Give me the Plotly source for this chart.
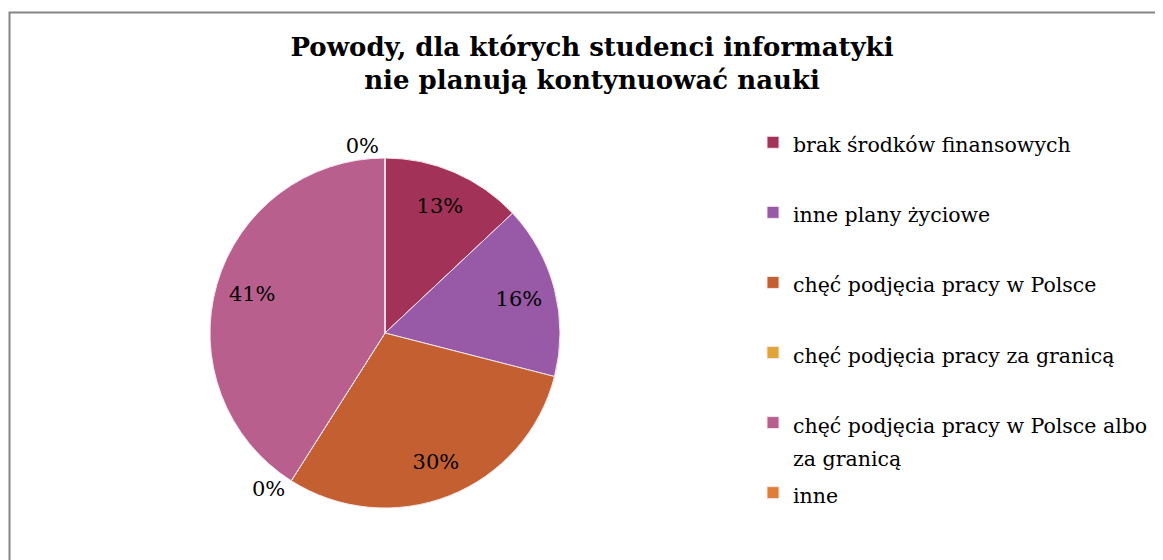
import plotly.graph_objects as go

# ---- data ----
categories = [
    "brak środków finansowych",
    "inne plany życiowe",
    "chęć podjęcia pracy w Polsce",
    "chęć podjęcia pracy za granicą",
    "chęć podjęcia pracy w Polsce albo za granicą",
    "inne",
]
shares = [13, 16, 30, 0, 41, 0]
colors = ["#A23257", "#9859A6", "#C45F31", "#E0A535", "#B85F8E", "#E07D36"]
title_text = "Powody, dla których studenci informatyki<br>nie planują kontynuować nauki"

FONT = "DejaVu Serif"
OFF = 8  # page body margin offset (px)
W, H = 1163 - OFF, 560 - OFF


def px_x(v):
    return (v - OFF) / W


def px_y(v):
    return 1 - (v - OFF) / H


def wrap(label, width=34):
    words, lines, cur = label.split(), [], ""
    for w in words:
        if cur and len(cur) + 1 + len(w) > width:
            lines.append(cur)
            cur = w
        else:
            cur = (cur + " " + w).strip()
    lines.append(cur)
    return lines


legend_labels = []
for c in categories:
    lines = wrap(c)
    if len(lines) == 1:
        lines.append(" ")
    legend_labels.append("<br>".join(f'<span style="font-size:20.5px">{l}</span>' for l in lines))

text_pos = ["outside" if v == 0 else "inside" for v in shares]
pie_domain = dict(x=[px_x(210), px_x(560)], y=[px_y(508), px_y(158)])

fig = go.Figure()
# base pie (colours + legend)
fig.add_trace(
    go.Pie(
        labels=legend_labels,
        values=shares,
        sort=False,
        direction="clockwise",
        rotation=0,
        marker=dict(colors=colors, line=dict(color="#F4E6EC", width=1)),
        textinfo="none",
        hoverinfo="label+percent",
        domain=pie_domain,
        showlegend=True,
    )
)
# transparent ring carrying the percentage labels
fig.add_trace(
    go.Pie(
        labels=legend_labels,
        values=shares,
        sort=False,
        direction="clockwise",
        rotation=0,
        hole=0.58,
        marker=dict(colors=["rgba(0,0,0,0)"] * len(shares), line=dict(width=0)),
        texttemplate="%{percent:.0%}",
        textposition=text_pos,
        insidetextorientation="horizontal",
        textfont=dict(family=FONT, size=21, color="#000000"),
        outsidetextfont=dict(family=FONT, size=21, color="#000000"),
        hoverinfo="skip",
        domain=pie_domain,
        showlegend=False,
    )
)

fig.update_layout(
    width=W,
    height=H,
    margin=dict(l=0, r=0, t=0, b=0),
    paper_bgcolor="white",
    plot_bgcolor="white",
    font=dict(family=FONT, color="#000000"),
    title=dict(
        text=title_text,
        x=(592 - OFF) / W,
        xanchor="center",
        y=1 - 47.5 / H,
        yanchor="top",
        font=dict(family=FONT, size=26, color="#000000", weight="bold"),
    ),
    legend=dict(
        x=(753 - OFF) / W,
        xanchor="left",
        y=1 - (119 - OFF) / H,
        yanchor="top",
        valign="top",
        font=dict(family=FONT, size=25.8, color="#000000"),
        bgcolor="rgba(0,0,0,0)",
    ),
    shapes=[
        dict(
            type="path",
            xref="paper",
            yref="paper",
            path=f"M {px_x(9.5)} -0.1 L {px_x(9.5)} {px_y(12.5)} L 1.1 {px_y(12.5)}",
            line=dict(color="#868686", width=2),
        )
    ],
)

fig.write_html("out.html")
